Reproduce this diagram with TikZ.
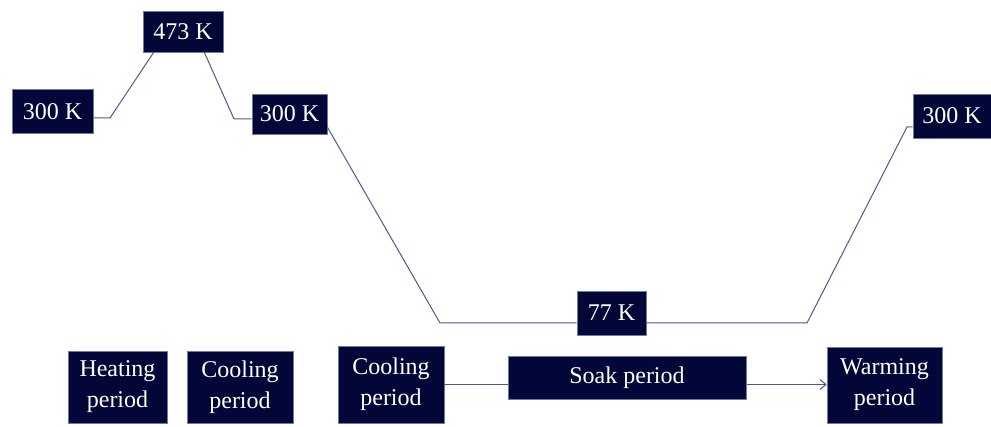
\documentclass[tikz,border=0pt]{standalone}
\usepackage{fontspec}
\setmainfont{Liberation Serif}
\usetikzlibrary{arrows.meta,shadows}
\definecolor{boxnavy}{RGB}{2,7,56}
\definecolor{boxrim}{RGB}{110,120,160}
\definecolor{wireblue}{RGB}{75,90,140}
\tikzset{
  tempbox/.style={draw=boxrim, line width=0.6pt, fill=boxnavy, text=white,
    font=\fontsize{24}{31}\selectfont, inner sep=0pt, align=center,
    drop shadow={opacity=0.25, shadow xshift=1pt, shadow yshift=-1pt}},
  wire/.style={draw=wireblue, line width=1pt}
}
\begin{document}
\begin{tikzpicture}[x=1pt,y=-1pt]
    \useasboundingbox (0,0) rectangle (991,427);
    % temperature levels
    \node[tempbox, minimum width=81pt, minimum height=44pt] (t1) at (52.5,111.5) {300 K};
    \node[tempbox, minimum width=80pt, minimum height=41pt] (t2) at (183,31.5) {473 K};
    \node[tempbox, minimum width=75pt, minimum height=40pt] (t3) at (289.5,114) {300 K};
    \node[tempbox, minimum width=69pt, minimum height=44pt] (t4) at (611.5,313) {77 K};
    \node[tempbox, minimum width=78pt, minimum height=44pt] (t5) at (952,116) {300 K};
    % corners of the profile
    \coordinate (k1) at (110,118);
    \coordinate (k2) at (234,119);
    \coordinate (k3) at (440,323);
    \coordinate (k4) at (807,323);
    \coordinate (k5) at (907,127);
    \draw[wire] ([yshift=-6.5pt]t1.east) -- (k1) -- ([xshift=11pt]t2.south west);
    \draw[wire] ([xshift=-19pt]t2.south east) -- (k2) -- ([yshift=-5pt]t3.west);
    \draw[wire] ([yshift=-13pt]t3.east) -- (k3) -- ([yshift=-10pt]t4.west);
    \draw[wire] ([yshift=-10pt]t4.east) -- (k4) -- (k5) -- ([yshift=-11pt]t5.west);
    % periods
    \node[tempbox, minimum width=99pt, minimum height=72pt] (heat) at (117.5,387) {Heating\\period};
    \node[tempbox, minimum width=106pt, minimum height=72pt] (cool1) at (240,387) {Cooling\\period};
    \node[tempbox, minimum width=106pt, minimum height=77pt] (cool2) at (391,384.5) {Cooling\\period};
    \node[tempbox, minimum width=115pt, minimum height=76pt] (warm) at (884.5,385) {Warming\\period};
    \draw[wire, -{Straight Barb[length=6pt,width=10pt]}] (cool2.east) -- (cool2.east -| warm.west);
    \node[tempbox, minimum width=238pt, minimum height=43pt] (soak) at (627,377.5) {Soak period};
\end{tikzpicture}
\end{document}
